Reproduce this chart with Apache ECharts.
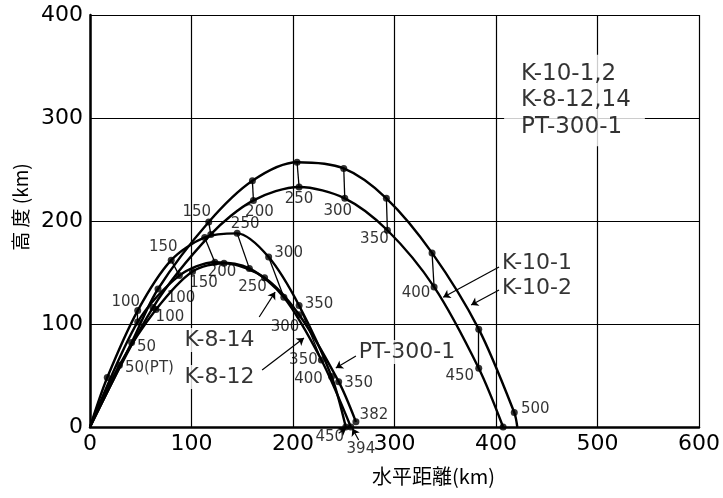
<!DOCTYPE html>
<html><head><meta charset="utf-8">
<script src="https://cdn.jsdelivr.net/npm/echarts@6/dist/echarts.min.js"></script>
<style>html,body{margin:0;padding:0;background:#fff}#c{width:723px;height:498px}</style>
</head><body><div id="c"></div>
<script>
// ---------------- data (km, seconds) ----------------
const xTicks = [0, 100, 200, 300, 400, 500, 600];
const yTicks = [0, 100, 200, 300, 400];

const k102T = [0, 50, 100, 150, 200, 250, 300, 350, 400, 450, 500, null];
const k102X = [0, 41, 67, 117, 160, 204, 250, 292, 337, 383, 418, 421];
const k102Y = [0, 82, 134, 199, 239, 257, 251, 222, 169, 95, 14, 0];

const k101T = [0, 100, 150, 200, 250, 300, 350, 400, 450, null];
const k101X = [0, 62, 119, 161, 206, 251, 293, 339, 383, 407];
const k101Y = [0, 116, 187, 220, 233, 222, 191, 136, 57, 0];

const k814T = [0, 50, 100, 150, 200, 250, 300, 350, 400, 450];
const k814X = [0, 17, 47, 80, 113, 145, 176, 206, 238, 252];
const k814Y = [0, 48, 113, 162, 184, 188, 165, 118, 49, 0];

const k812T = [0, 100, 150, 200, 250, 300, 350, 394];
const k812X = [0, 47, 88, 123, 157, 191, 228, 257];
const k812Y = [0, 102, 147, 160, 154, 126, 65, 0];

const ptT = [0, 50, 100, 150, 200, 250, 300, 350, 382];
const ptX = [0, 29, 65, 101, 132, 172, 206, 245, 262];
const ptY = [0, 60, 114, 151, 159, 145, 109, 44, 5];

const k10PairTimes = [150, 200, 250, 300, 350, 400, 450];
const k8PairTimes = [100, 150, 200, 250, 300, 350];

const boxLines = ['K-10-1,2', 'K-8-12,14', 'PT-300-1'];

// ---------------- layout / style ----------------
const FONT = 'DejaVu Sans';
const trajectories = [
  {name: 'K-10-2', t: k102T, x: k102X, y: k102Y, dotFrom: 1, dotLast: false},
  {name: 'K-10-1', t: k101T, x: k101X, y: k101Y, dotFrom: 1, dotLast: true},
  {name: 'K-8-14', t: k814T, x: k814X, y: k814Y, dotFrom: 1, dotLast: true},
  {name: 'K-8-12', t: k812T, x: k812X, y: k812Y, dotFrom: 1, dotLast: true},
  {name: 'PT-300-1', t: ptT, x: ptX, y: ptY, dotFrom: 1, dotLast: true}
];
// pixel offsets of time labels from their dots
const labelLayout = {
  'K-10-2': {50: [15, 5], 100: [23, 9], 150: [-12, -10], 500: [21, -3]},
  'K-10-1': {100: [17, 10], 200: [6, 12], 250: [0, 12], 300: [-7, 13], 350: [-13, 9], 400: [-18, 6], 450: [-19, 8]},
  'K-8-14': {100: [-12, -9], 150: [-8, -13], 250: [8, -9], 300: [20, -4], 350: [20, -1], 400: [-23, 3], 450: [-16, 10]},
  'K-8-12': {350: [-18, 0], 394: [10, 22]},
  'PT-300-1': {50: [30, 3], 150: [11, 12], 200: [-2, 9], 250: [-12, 9], 300: [-14, 12], 350: [20, 1], 382: [18, -7]}
};
const labelText = {'PT-300-1': {50: '50(PT)'}};

// annotation anchors (data units)
const nameAnchors = [
  {text: 'K-10-1', at: [404, 159], align: 'left'},
  {text: 'K-10-2', at: [404, 135], align: 'left'},
  {text: 'K-8-14', at: [127.5, 84.5], align: 'center'},
  {text: 'K-8-12', at: [127.5, 48.5], align: 'center'},
  {text: 'PT-300-1', at: [262.7, 72.8], align: 'left'}
];
const leaders = [
  [[403, 155.3], [348, 126]],
  [[403, 133], [375.5, 118.4]],
  [[166.7, 106.8], [182.4, 131]],
  [[169.6, 55.3], [210.8, 86.4]],
  [[262, 68.9], [242.2, 57.3]],
  [[245, -6], [252.5, -1]],
  [[264.7, -12.6], [258.5, -1.5]]
];
const boxAnchor = [408, 317];

// ---------------- build ----------------
const series = [];
trajectories.forEach(tr => {
  series.push({
    type: 'line', name: tr.name, silent: true, z: 3,
    data: tr.x.map((v, i) => [v, tr.y[i]]),
    smooth: 0.3, showSymbol: false, symbol: 'none',
    lineStyle: {color: '#000', width: 2.4}
  });
});

const dots = [];
trajectories.forEach(tr => {
  const lay = labelLayout[tr.name] || {};
  const txt = labelText[tr.name] || {};
  for (let i = tr.dotFrom; i < tr.x.length; i++) {
    if (i === tr.x.length - 1 && !tr.dotLast) continue;
    const t = tr.t[i];
    const item = {value: [tr.x[i], tr.y[i]]};
    if (t !== null && lay[t]) {
      item.label = {show: true, formatter: txt[t] || String(t), offset: lay[t]};
    }
    dots.push(item);
  }
});
series.push({
  type: 'scatter', data: dots, symbolSize: 7, z: 6, silent: true,
  itemStyle: {color: '#000'},
  label: {show: false, position: 'inside', color: '#000', fontSize: 15, fontFamily: FONT}
});

function pointAt(tr, t) {
  const i = tr.t.indexOf(t);
  return [tr.x[i], tr.y[i]];
}
const connectors = [];
k10PairTimes.forEach(t => connectors.push({coords: [pointAt(trajectories[0], t), pointAt(trajectories[1], t)]}));
k8PairTimes.forEach(t => connectors.push({coords: [pointAt(trajectories[2], t), pointAt(trajectories[3], t)]}));
series.push({
  type: 'lines', coordinateSystem: 'cartesian2d', data: connectors, silent: true, z: 4,
  lineStyle: {color: '#000', width: 1.3, opacity: 1}
});
series.push({
  type: 'lines', coordinateSystem: 'cartesian2d', clip: false, silent: true, z: 7,
  data: leaders.map(l => ({coords: l})),
  symbol: ['none', 'arrow'], symbolSize: 7,
  lineStyle: {color: '#000', width: 1.2, opacity: 1}
});

series.push({
  type: 'scatter', silent: true, z: 8, symbolSize: 1,
  itemStyle: {color: 'rgba(0,0,0,0)'},
  data: nameAnchors.map(a => ({
    value: a.at,
    label: {show: true, position: 'inside', formatter: a.text, align: a.align, verticalAlign: 'middle',
      color: '#000', fontSize: 22, fontFamily: FONT, backgroundColor: '#fff', padding: [1, 2]}
  })).concat([{
    value: boxAnchor,
    label: {show: true, position: 'inside', formatter: boxLines.join('\n'), align: 'left', verticalAlign: 'middle',
      color: '#000', fontSize: 23, lineHeight: 26.5, fontFamily: FONT, backgroundColor: '#fff', padding: [6, 14, 6, 17]}
  }])
});

const axisCommon = {
  type: 'value',
  axisLine: {show: true, lineStyle: {color: '#000', width: 2.5}},
  axisTick: {show: false},
  splitLine: {show: true, lineStyle: {color: '#000', width: 1.2}},
  axisLabel: {color: '#000', fontSize: 22, fontFamily: FONT}
};

const chart = echarts.init(document.getElementById('c'), null, {renderer: 'canvas'});
chart.setOption({
  animation: false,
  backgroundColor: '#fff',
  grid: {left: 90, top: 15, width: 612, height: 412},
  xAxis: Object.assign({}, axisCommon, {
    min: xTicks[0], max: xTicks[xTicks.length - 1], interval: xTicks[1] - xTicks[0],
    axisLabel: Object.assign({}, axisCommon.axisLabel, {margin: 6}),
    name: '水平距離(km)', nameLocation: 'middle', nameGap: 39,
    nameTextStyle: {fontFamily: 'Noto Sans CJK JP', fontSize: 20, color: '#000', padding: [0, 0, 0, 78]}
  }),
  yAxis: Object.assign({}, axisCommon, {
    min: yTicks[0], max: yTicks[yTicks.length - 1], interval: yTicks[1] - yTicks[0],
    axisLabel: Object.assign({}, axisCommon.axisLabel, {margin: 7}),
    name: '高 度 (km)', nameLocation: 'middle', nameGap: 56, nameRotate: 90,
    nameTextStyle: {fontFamily: 'Noto Sans CJK JP', fontSize: 19, color: '#000', padding: [0, 0, 0, 28]}
  }),
  series: series
});
</script>
</body></html>
